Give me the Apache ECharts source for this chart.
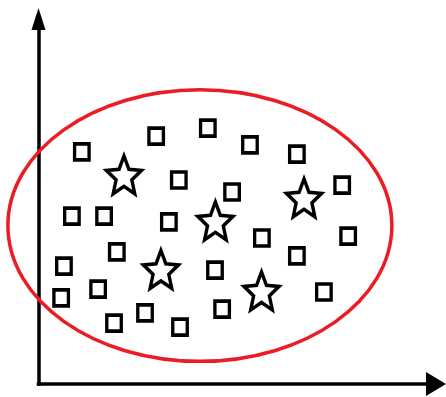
<!DOCTYPE html>
<html>
<head>
<meta charset="utf-8">
<script src="https://cdn.jsdelivr.net/npm/echarts@6/dist/echarts.min.js"></script>
<style>
html,body{margin:0;padding:0;background:#fff;}
#chart{width:446px;height:397px;}
</style>
</head>
<body>
<div id="chart"></div>
<script>
// Data (arbitrary units, 0-100 on each axis)
const squareX = [10.9, 29.6, 42.6, 53.2, 65.0, 76.4, 35.3, 48.7, 8.4, 16.5, 32.8, 56.2, 77.9, 19.7, 6.4, 44.4, 65.0, 15.0, 5.7, 26.8, 19.0, 35.6, 46.2, 71.8];
const squareY = [63.6, 67.9, 70.1, 65.5, 63.0, 54.5, 55.9, 52.6, 46.0, 46.0, 44.4, 40.0, 40.5, 36.2, 32.3, 31.2, 35.1, 26.0, 23.6, 19.5, 16.7, 15.6, 20.5, 25.2];
const starX = [21.5, 66.8, 44.5, 30.8, 56.1];
const starY = [57.3, 51.0, 44.7, 31.4, 25.5];
// ellipse: centre x, centre y, radius x, radius y
const ellipse = [40.6, 43.4, 48.3, 37.2];

const starPath = 'path://M50,0 L63.23,31.8 L97.55,34.55 L71.4,56.95 L79.39,90.45 L50,72.5 L20.61,90.45 L28.6,56.95 L2.45,34.55 L36.77,31.8 Z';

const chart = echarts.init(document.getElementById('chart'), null, {renderer: 'canvas'});
const axisCommon = {
  type: 'value', min: 0, max: 100,
  axisTick: {show: false}, axisLabel: {show: false}, splitLine: {show: false}
};
chart.setOption({
  backgroundColor: '#ffffff',
  animation: false,
  grid: {left: 38.5, right: 10, top: 19, bottom: 13},
  xAxis: Object.assign({}, axisCommon, {
    axisLine: {show: true, symbol: ['none', 'triangle'], symbolSize: [24, 20],
      lineStyle: {color: '#000', width: 3.5, cap: 'square'}}
  }),
  yAxis: Object.assign({}, axisCommon, {
    axisLine: {show: true, symbol: ['none', 'triangle'], symbolSize: [14, 22],
      lineStyle: {color: '#000', width: 3.5, cap: 'square'}}
  }),
  series: [
    {
      type: 'custom',
      clip: false,
      silent: true,
      z: 1,
      data: [ellipse],
      encode: {x: 0, y: 1},
      renderItem: function (params, api) {
        const c = api.coord([api.value(0), api.value(1)]);
        const s = api.size([api.value(2), api.value(3)]);
        return {
          type: 'ellipse',
          shape: {cx: c[0], cy: c[1], rx: s[0], ry: s[1]},
          style: {fill: 'none', stroke: '#ec1c24', lineWidth: 3.5}
        };
      }
    },
    {
      type: 'scatter',
      silent: true,
      z: 3,
      symbol: 'rect',
      symbolSize: [14.5, 16],
      itemStyle: {color: '#ffffff', borderColor: '#000000', borderWidth: 3.5, opacity: 1},
      data: squareX.map((x, i) => [x, squareY[i]])
    },
    {
      type: 'scatter',
      silent: true,
      z: 3,
      symbol: starPath,
      symbolSize: [35, 38],
      itemStyle: {color: '#ffffff', borderColor: '#000000', borderWidth: 3.5, opacity: 1},
      data: starX.map((x, i) => [x, starY[i]])
    }
  ]
});
</script>
</body>
</html>
